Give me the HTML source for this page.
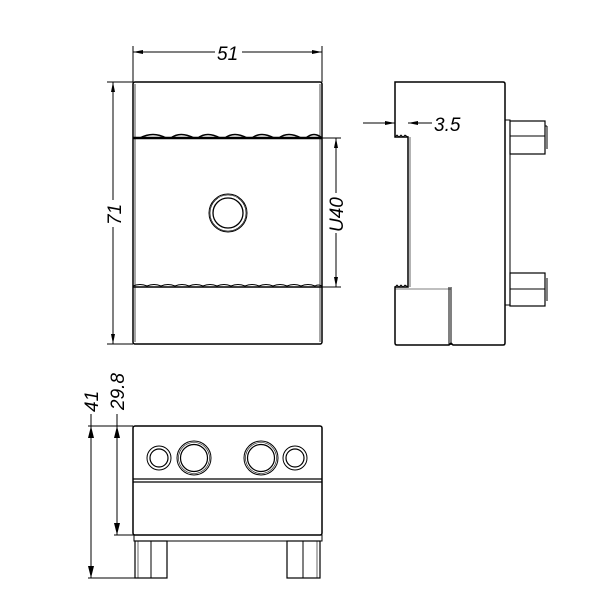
<!DOCTYPE html>
<html><head><meta charset="utf-8"><style>html,body{margin:0;padding:0;background:#fff}svg{display:block}</style></head><body>
<svg width="616" height="616" viewBox="0 0 616 616" xmlns="http://www.w3.org/2000/svg" font-family="Liberation Sans, sans-serif" font-style="italic" font-size="19" fill="none" stroke="#000" stroke-width="1">
<defs>
<marker id="a" viewBox="0 0 10 4" refX="10" refY="2" markerWidth="12" markerHeight="4" markerUnits="userSpaceOnUse" orient="auto-start-reverse"><path d="M0,0L10,2L0,4z" fill="#000" stroke="none"/></marker>
</defs>
<!-- FRONT VIEW -->
<rect x="133" y="82" width="189" height="262" rx="2" stroke-width="1.5"/>
<line x1="135" y1="84" x2="135" y2="342" stroke-width="0.7"/>
<line x1="320" y1="84" x2="320" y2="342" stroke-width="0.7"/>
<path d="M133,138 L140,138 Q153,131 166,138 L171,138 Q180,131 194,138 L198,138 Q207,131 220,138 L225,138 Q234,131 247,138 L252,138 Q261,131 274,138 L279,138 Q288,131 301,138 L306,138 Q314,131 322,138" stroke-width="1.5"/>
<line x1="133" y1="138" x2="322" y2="138" stroke-width="2.5"/>
<path d="M133,286 Q140,283 147,286 Q154,283 161,286 Q168,283 175,286 Q182,283 189,286 Q196,283 203,286 Q210,283 217,286 Q224,283 231,286 Q238,283 245,286 Q252,283 259,286 Q266,283 273,286 Q280,283 287,286 Q294,283 301,286 Q308,283 315,286 Q318,284 322,286"/>
<line x1="133" y1="287" x2="322" y2="287" stroke-width="1.5"/>
<circle cx="228" cy="213" r="19" stroke-width="1"/>
<circle cx="228" cy="213" r="18" stroke-width="0.6"/>
<circle cx="228" cy="213" r="15" stroke-width="1.3"/>
<!-- dims front -->
<line x1="133" y1="46" x2="133" y2="82"/>
<line x1="322" y1="46" x2="322" y2="82"/>
<line x1="133" y1="52" x2="215" y2="52" marker-start="url(#a)"/>
<line x1="242" y1="52" x2="322" y2="52" marker-end="url(#a)"/>
<text x="217" y="60" fill="#000" stroke="none">51</text>
<line x1="107" y1="82" x2="133" y2="82"/>
<line x1="107" y1="344" x2="133" y2="344"/>
<line x1="113" y1="82" x2="113" y2="200" marker-start="url(#a)"/>
<line x1="113" y1="227" x2="113" y2="344" marker-end="url(#a)"/>
<text transform="translate(121,225) rotate(-90)" fill="#000" stroke="none">71</text>
<line x1="322" y1="138" x2="341" y2="138"/>
<line x1="322" y1="287" x2="341" y2="287"/>
<line x1="336" y1="138" x2="336" y2="193" marker-start="url(#a)"/>
<line x1="336" y1="233" x2="336" y2="287" marker-end="url(#a)"/>
<text transform="translate(343,232) rotate(-90)" fill="#000" stroke="none">U40</text>
<!-- SIDE VIEW -->
<path d="M395,82 L503,82 Q505,82 505,84 L505,343 Q505,345 503,345 L453,345 L451,343 L449,345 L397,345 Q395,345 395,343 L395,287 L408,287 L408,137 L395,137 Z" stroke-width="1.5"/>
<path d="M395,137 L397,135 L399,137 L401,135 L403,137 L405,135 L408,137" stroke-width="0.8"/>
<path d="M395,287 L397,285 L399,287 L401,285 L403,287 L405,285 L408,287" stroke-width="0.8"/>
<line x1="410" y1="137" x2="410" y2="287" stroke-width="0.6"/>
<line x1="449" y1="287" x2="449" y2="345"/>
<line x1="451" y1="287" x2="451" y2="345"/>
<line x1="395" y1="289" x2="451" y2="289" stroke-width="0.6"/>
<rect x="505" y="120" width="5" height="185"/>
<rect x="510" y="121" width="35" height="33" stroke-width="1.2"/>
<line x1="510" y1="136" x2="545" y2="136"/>
<line x1="545" y1="126" x2="547" y2="126"/><line x1="547" y1="126" x2="547" y2="149"/>
<rect x="510" y="273" width="35" height="33" stroke-width="1.2"/>
<line x1="510" y1="289" x2="545" y2="289"/>
<line x1="547" y1="278" x2="547" y2="301"/>
<line x1="395" y1="118" x2="395" y2="137"/>
<line x1="363" y1="123" x2="395" y2="123" marker-end="url(#a)"/>
<line x1="432" y1="123" x2="408" y2="123" marker-end="url(#a)"/>
<text x="434" y="131" fill="#000" stroke="none">3.5</text>
<!-- BOTTOM VIEW -->
<rect x="133" y="426" width="189" height="109" rx="2" stroke-width="1.5"/>
<line x1="133" y1="479" x2="322" y2="479" stroke-width="1.3"/>
<line x1="133" y1="482" x2="322" y2="482" stroke-width="1.3"/>
<rect x="134" y="535" width="188" height="6"/>
<rect x="135" y="541" width="32" height="37" stroke-width="1.2"/>
<line x1="151" y1="541" x2="151" y2="578"/><line x1="138" y1="541" x2="138" y2="578" stroke-width="0.6"/>
<rect x="287" y="541" width="33" height="37" stroke-width="1.2"/>
<line x1="303" y1="541" x2="303" y2="578"/><line x1="317" y1="541" x2="317" y2="578" stroke-width="0.6"/>
<circle cx="159" cy="458" r="12"/><circle cx="159" cy="458" r="9" stroke-width="1.2"/>
<circle cx="194" cy="458" r="17"/><circle cx="194" cy="458" r="15.5" stroke-width="0.6"/><circle cx="194" cy="458" r="13.5" stroke-width="1.2"/>
<circle cx="261" cy="458" r="17"/><circle cx="261" cy="458" r="15.5" stroke-width="0.6"/><circle cx="261" cy="458" r="13.5" stroke-width="1.2"/>
<circle cx="295" cy="458" r="12"/><circle cx="295" cy="458" r="9" stroke-width="1.2"/>
<line x1="88" y1="426" x2="133" y2="426"/>
<line x1="114" y1="535" x2="134" y2="535"/>
<line x1="88" y1="578" x2="135" y2="578"/>
<line x1="91" y1="414" x2="91" y2="578"/>
<line x1="117" y1="414" x2="117" y2="535"/>
<path d="M117,426 l-3,12 l6,0 z M117,535 l-3,-12 l6,0 z M91,426 l-3,12 l6,0 z M91,578 l-3,-12 l6,0 z" fill="#000" stroke="none"/>
<text transform="translate(98,412) rotate(-90)" fill="#000" stroke="none">41</text>
<text transform="translate(124,410) rotate(-90)" fill="#000" stroke="none">29.8</text>
</svg>
</body></html>
